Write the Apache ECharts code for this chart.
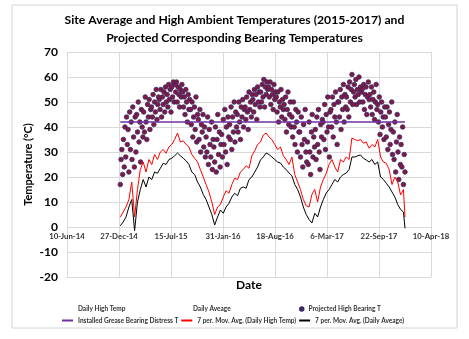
<!DOCTYPE html>
<html>
<head>
<meta charset="utf-8">
<script src="https://cdn.jsdelivr.net/npm/echarts@6/dist/echarts.min.js"></script>
<style>html,body{margin:0;padding:0;background:#fff;}#c{width:469px;height:339px;}</style>
</head>
<body>
<div id="c"></div>
<script>
// x values are days counted from 10-Jun-14 (axis origin)
const axisStartUTC = Date.UTC(2014, 5, 10);
const months = ['Jan','Feb','Mar','Apr','May','Jun','Jul','Aug','Sep','Oct','Nov','Dec'];

// Projected High Bearing T, one reading every 3 days from 1-Jan-15 (day 205) to 31-Dec-17 (day 1300)
const scatterStartDay = 205;
const scatterStepDays = 3;
const projectedHighBearingT = [
  17,27,31,21,35,24,40,28,44,33,
  39,22,46,31,42,27,48,36,24,44,
  30,45,38,50,34,42,26,47,40,36,
  46,38,52,42,35,49,44,51,39,47,
  48,44,53,41,50,46,55,43,49,52,
  51,47,55,44,52,49,54,46,56,50,
  53,48,57,51,55,46,56,52,58,50,
  57,54,58,50,56,53,48,55,52,57,
  54,48,52,45,55,50,42,53,47,51,
  47,41,50,36,44,48,39,52,34,45,
  43,35,47,30,41,38,45,32,40,28,
  36,30,44,25,39,33,28,42,23,35,
  32,26,40,22,35,45,29,38,24,33,
  37,28,43,33,47,30,40,25,44,36,
  41,35,48,31,44,38,50,34,46,40,
  45,38,50,42,35,48,44,51,40,47,
  48,43,52,46,39,54,47,50,44,53,
  51,46,55,49,53,43,56,50,54,48,
  54,50,57,52,59,48,56,53,58,55,
  56,52,58,49,55,53,47,57,51,54,
  52,46,54,42,50,48,55,44,51,47,
  49,43,52,38,47,54,41,45,50,40,
  44,36,50,40,33,47,42,30,46,38,
  38,28,44,33,24,41,35,47,30,26,
  34,25,42,30,21,38,45,28,36,32,
  39,27,44,33,47,30,23,41,36,43,
  42,35,49,31,45,38,52,40,28,46,
  47,40,52,36,49,44,54,42,33,50,
  50,44,55,39,52,47,57,42,53,48,
  52,47,56,44,58,50,55,61,49,54,
  57,52,59,49,55,53,60,50,56,54,
  55,50,57,47,53,56,45,52,58,51,
  53,48,56,45,51,54,43,50,57,47,
  49,42,52,37,46,50,40,44,35,48,
  44,36,48,31,41,46,33,39,50,29,
  38,27,42,22,34,45,30,19,36,25,
  33,24,40,17,29,22
];

// Moving averages (days from 10-Jun-14)
const maDays = [205,216,227,238,249,260,271,282,293,304,315,326,337,348,359,370,381,392,403,414,
  425,436,447,458,469,480,491,502,513,524,535,546,557,568,579,590,601,612,623,634,
  645,656,667,678,689,700,711,722,733,744,755,766,777,788,799,810,821,832,843,854,
  865,876,887,898,909,920,931,942,953,964,975,986,997,1008,1019,1030,1041,1052,1063,1074,
  1085,1096,1107,1118,1129,1140,1151,1162,1173,1184,1195,1206,1217,1228,1239,1250,1261,1272,1283,1294,1300];
const maDailyHigh = [4,6,8,11,18,4,15,23,26,22,27,25,29,27,30,31,29.5,32,33,35,
  37.6,34,34.5,33,32,29,27.5,26,23,20,17,14,10,5,8,9,12,14.5,13.5,17,
  19.5,19,22,23,24.5,23.5,28.5,30.5,33,34,36.8,37.6,36,35,33,31,32,28.5,27,25,
  28,21,18,15,11,8.5,8,13,15,10,16,19,21.5,25,27,24,22,27,26,28,
  27,35.6,35,34.5,35,33.5,34,31.5,33,32,35,28,26,25.5,23,17,20,18,12.8,15,4];
const maDailyAverage = [0.5,2,4,8,11,-1.5,10,15,19,16,20,19,22,21.5,23.5,25.5,25,27,27.5,28.5,
  29.6,28.5,27.5,26.5,25,22,21,18,16,13,11,8,5,0.8,4,6.8,5.5,8,9.5,12,
  13.5,12.5,15.5,16,15.5,19,20,22,24,26.8,28,29.6,29,28,27,26,25.6,24,23,21.6,
  20.5,17,15,12,8,5,3,1.6,5.5,4,8,11,13.6,15,17,19,18,20,21,21.6,
  23,28,28,28.5,28.8,27.5,26.8,26,27,25,26,20,19,17.5,16,14,12,9,7,6,-0.5];

// Installed grease bearing distress temperature
const distressT = 42;
const distressDays = [205, 1300];

// Axis ticks
const xMin = 0, xMax = 1400, xStep = 200;
const yMin = -20, yMax = 70, yStep = 10;

function fmtDay(d) {
  const dt = new Date(axisStartUTC + d * 86400000);
  return dt.getUTCDate() + '-' + months[dt.getUTCMonth()] + '-' + String(dt.getUTCFullYear()).slice(2);
}

const FONT = 'Lato';
const chart = echarts.init(document.getElementById('c'), null, {renderer: 'canvas'});

const legendText = {fontFamily: FONT, fontSize: 6.5, fontWeight: 'bold', color: '#333'};
function lg(data, left, top, opts) {
  return Object.assign({data: data, left: left, top: top, padding: 0, textStyle: legendText,
    itemWidth: 11, itemHeight: 2, itemGap: 3, selectedMode: false}, opts || {});
}

chart.setOption({
  animation: false,
  backgroundColor: '#fff',
  title: [
    {text: 'Site Average and High Ambient Temperatures (2015-2017) and', left: 'center', top: 9,
     textStyle: {fontFamily: FONT, fontSize: 12.2, fontWeight: 'bold', color: '#000'}},
    {text: 'Projected Corresponding Bearing Temperatures', left: 'center', top: 27,
     textStyle: {fontFamily: FONT, fontSize: 12.2, fontWeight: 'bold', color: '#000'}}
  ],
  graphic: [
    {type: 'rect', shape: {x: 12, y: 5, width: 445, height: 323}, style: {fill: 'none', stroke: '#d4d4d4', lineWidth: 1}, silent: true},
    {type: 'text', x: 249, y: 279, style: {text: 'Date', font: 'bold 12px ' + FONT, fill: '#000', textAlign: 'center'}}
  ],
  legend: [
    lg(['Daily High Temp'], 61, 305),
    lg(['Daily Aveage'], 176, 305),
    lg(['Projected High Bearing T'], 299, 305.5, {itemWidth: 3.5, itemHeight: 3.5, icon: 'circle'}),
    lg(['Installed Grease Bearing Distress T', '7 per. Mov. Avg. (Daily High Temp)', '7 per. Mov. Avg. (Daily Aveage)'], 62, 317, {icon: 'rect', itemWidth: 11})
  ],
  grid: {left: 67, right: 38, top: 52, bottom: 62, containLabel: false},
  xAxis: {
    type: 'value', min: xMin, max: xMax, interval: xStep,
    axisLine: {onZero: false, lineStyle: {color: '#d9d9d9'}},
    axisTick: {show: false},
    axisLabel: {formatter: fmtDay, fontFamily: FONT, fontSize: 7.8, fontWeight: 'bold', color: '#333', margin: -45, showMinLabel: true, showMaxLabel: true},
    splitLine: {show: true, lineStyle: {color: '#d9d9d9', width: 1}}
  },
  yAxis: {
    type: 'value', min: yMin, max: yMax, interval: yStep,
    name: 'Temperature (°C)', nameLocation: 'middle', nameGap: 33, nameMoveOverlap: false,
    nameTextStyle: {fontFamily: FONT, fontSize: 11, fontWeight: 'bold', color: '#000'},
    axisLine: {show: false}, axisTick: {show: false},
    axisLabel: {fontFamily: FONT, fontSize: 12, fontWeight: 'bold', color: '#000', margin: 9},
    splitLine: {show: true, lineStyle: {color: '#d9d9d9', width: 1}}
  },
  series: [
    {name: 'Daily High Temp', type: 'line', data: [], itemStyle: {color: 'transparent'}, lineStyle: {color: 'transparent'}},
    {name: 'Daily Aveage', type: 'line', data: [], itemStyle: {color: 'transparent'}, lineStyle: {color: 'transparent'}},
    {
      name: 'Projected High Bearing T', type: 'scatter', symbolSize: 4.6,
      itemStyle: {color: '#84193f', borderColor: '#35296a', borderWidth: 0.8, opacity: 1},
      data: projectedHighBearingT.map((v, k) => [scatterStartDay + k * scatterStepDays, v])
    },
    {
      name: 'Installed Grease Bearing Distress T', type: 'line', showSymbol: false, symbol: 'none',
      lineStyle: {color: '#7030a0', width: 1.5}, itemStyle: {color: '#7030a0'},
      data: distressDays.map(d => [d, distressT])
    },
    {
      name: '7 per. Mov. Avg. (Daily High Temp)', type: 'line', showSymbol: false, symbol: 'none',
      lineStyle: {color: '#ff0000', width: 1}, itemStyle: {color: '#ff0000'},
      data: maDays.map((d, i) => [d, maDailyHigh[i]])
    },
    {
      name: '7 per. Mov. Avg. (Daily Aveage)', type: 'line', showSymbol: false, symbol: 'none',
      lineStyle: {color: '#000000', width: 1}, itemStyle: {color: '#000000'},
      data: maDays.map((d, i) => [d, maDailyAverage[i]])
    }
  ]
});
</script>
</body>
</html>
